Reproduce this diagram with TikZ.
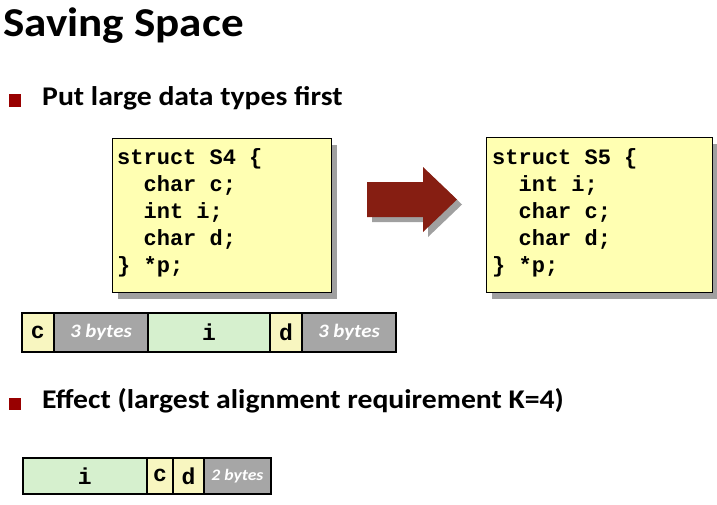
\documentclass[tikz,border=0pt]{standalone}
\usepackage{fontspec}
\setmainfont{Carlito}
\newfontfamily\headfont[FakeStretch=1.1]{Carlito}
\newfontfamily\codefont{Liberation Mono}
\begin{document}
\definecolor{bulletred}{RGB}{152,0,0}
\definecolor{arrowred}{RGB}{134,30,18}
\definecolor{shadowgray}{RGB}{160,160,160}
\definecolor{boxyellow}{RGB}{255,255,178}
\definecolor{cellyellow}{RGB}{248,246,192}
\definecolor{cellgreen}{RGB}{214,240,206}
\definecolor{padgray}{RGB}{166,166,166}
\begin{tikzpicture}[x=1pt,y=-1pt,
  title/.style={anchor=base west,inner sep=0,font=\headfont\bfseries\fontsize{41}{48}\selectfont},
  bullettext/.style={anchor=base west,inner sep=0,font=\headfont\bfseries\fontsize{27}{32}\selectfont},
  bulletsq/.style={fill=bulletred,draw=none,minimum size=12.5pt,inner sep=0,anchor=north west},
  codebox/.style={draw=black,line width=1.4pt,fill=boxyellow,anchor=north west,inner sep=0,
    preaction={fill=shadowgray,transform canvas={shift={(5pt,-6pt)}}}},
  code/.style={anchor=north west,inner sep=0,align=left,
    font=\codefont\bfseries\fontsize{22}{27}\selectfont},
  cell/.style={draw=black,line width=1.8pt,anchor=north west,inner sep=0,
    font=\codefont\bfseries\fontsize{23}{26}\selectfont},
  ycell/.style={cell,fill=cellyellow},
  gcell/.style={cell,fill=cellgreen},
  pcell/.style={cell,fill=padgray,text=white,font=\headfont\bfseries\itshape\fontsize{19}{22}\selectfont},
]
\useasboundingbox (0,0) rectangle (717,504);

% heading and bullet points
\node[title] (ttl) at (3,36) {Saving Space};
\node[bulletsq] (b1) at (8.5,94) {};
\node[bullettext] (t1) at (42,105) {Put large data types first};
\node[bulletsq] (b2) at (8.5,397.5) {};
\node[bullettext] (t2) at (42,408) {Effect (largest alignment requirement K=4)};

% struct declarations
\node[codebox,minimum width=219pt,minimum height=154pt] (s4) at (112,138) {};
\node[code] (s4code) at (117,148) {struct S4 \{\\\ \ char c;\\\ \ int i;\\\ \ char d;\\\} *p;};
\node[codebox,minimum width=226pt,minimum height=155pt] (s5) at (486,137) {};
\node[code] (s5code) at (492,148) {struct S5 \{\\\ \ int i;\\\ \ char c;\\\ \ char d;\\\} *p;};

% block arrow between the two declarations
\begin{scope}[shift={(5,5)}]
  \fill[shadowgray] (367,182) -- (423,182) -- (423,167) -- (457,199.5) -- (423,232) -- (423,217) -- (367,217) -- cycle;
\end{scope}
\fill[arrowred] (367,182) -- (423,182) -- (423,167) -- (457,199.5) -- (423,232) -- (423,217) -- (367,217) -- cycle;

% layout of S4
\node[ycell,minimum width=32pt,minimum height=39pt] (m1c) at (21,312) {c};
\node[pcell,minimum width=94pt,minimum height=39pt] (m1p1) at (53,312) {3 bytes};
\node[gcell,minimum width=122pt,minimum height=39pt] (m1i) at (147,312) {i};
\node[ycell,minimum width=32pt,minimum height=39pt] (m1d) at (269,312) {d};
\node[pcell,minimum width=94pt,minimum height=39pt] (m1p2) at (301,312) {3 bytes};

% layout of S5
\node[gcell,minimum width=124pt,minimum height=36pt] (m2i) at (22,457) {i};
\node[ycell,minimum width=26pt,minimum height=36pt] (m2c) at (146,457) {c};
\node[ycell,minimum width=31pt,minimum height=36pt] (m2d) at (172,457) {d};
\node[pcell,minimum width=67pt,minimum height=36pt,font=\headfont\bfseries\itshape\fontsize{16}{19}\selectfont] (m2p) at (203,457) {2 bytes};
\end{tikzpicture}
\end{document}
